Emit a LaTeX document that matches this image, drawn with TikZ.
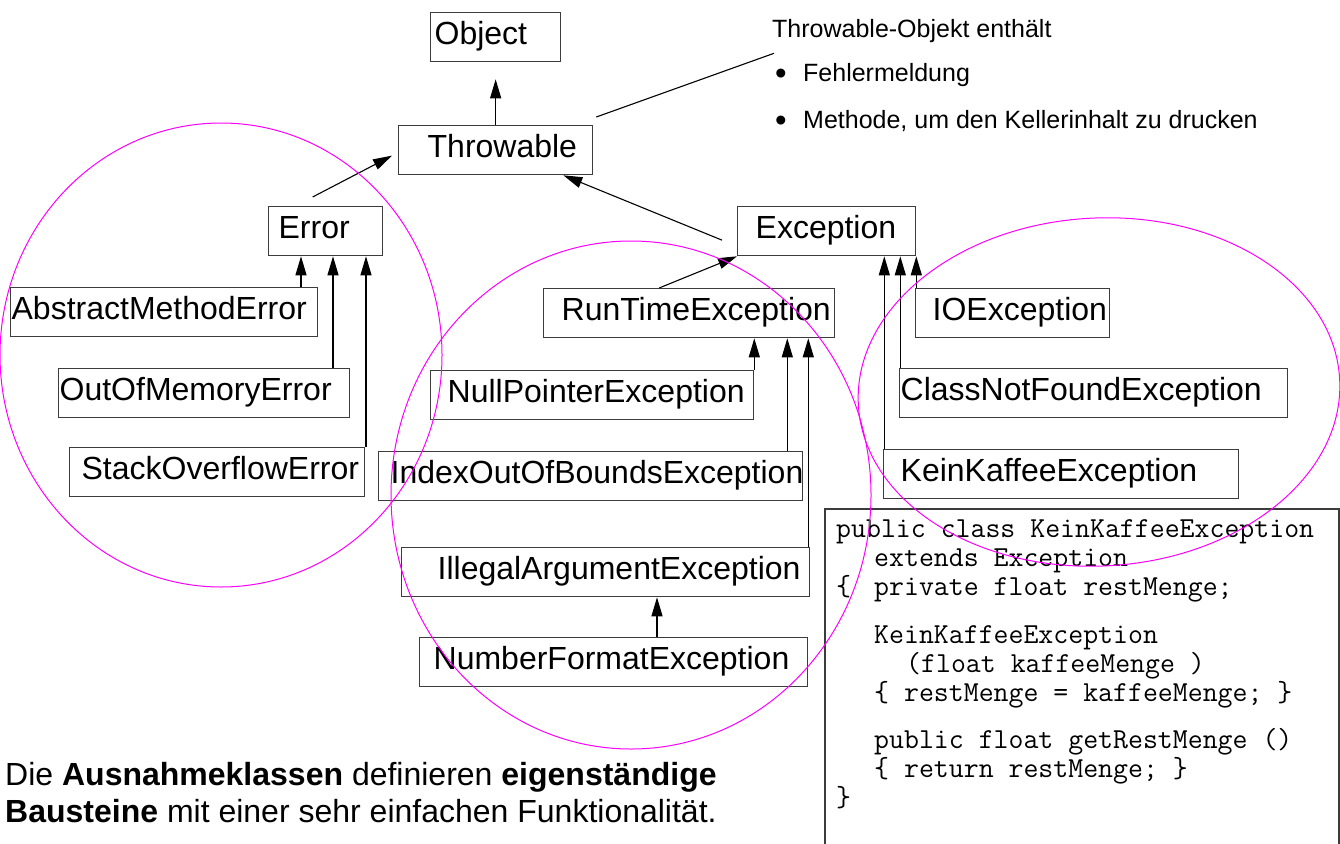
\documentclass[tikz,border=0pt]{standalone}
\usepackage{fontspec}
\setmainfont{Liberation Sans}
\usetikzlibrary{arrows.meta}
\definecolor{ink}{HTML}{000000}
\definecolor{frame}{HTML}{3C3C3C}
\definecolor{ring}{HTML}{FF00FF}

\begin{document}
\begin{tikzpicture}[
  x=1pt,y=-1pt,
  klasse/.style={draw=frame,line width=1.3pt,anchor=north west,align=left,
                 font=\fontsize{32}{38}\selectfont,inner ysep=0pt,
                 text height=32pt,text depth=17pt},
  hinweis/.style={font=\fontsize{25}{29}\selectfont,anchor=base west,inner sep=0pt},
  erbt/.style={-{Triangle[length=19pt,width=11pt]},line width=1.1pt,draw=ink},
  gruppe/.style={draw=ring,line width=1pt}
]
\path[use as bounding box,fill=white] (0,0) rectangle (1340,843);

% 1. Wurzel der Hierarchie.
\node[klasse,inner xsep=4pt,text width=122pt] (object) at (430,12) {Object};
\node[klasse,inner xsep=29pt,text width=136pt] (throwable) at (398,125) {Throwable};
\node[klasse,inner xsep=10pt,text width=94pt] (error) at (268,206) {Error};
\node[klasse,inner xsep=18pt,text width=142pt] (exception) at (737,206) {Exception};

\draw[erbt] (throwable.north) -- ([yshift=-17pt]object.south);
\draw[erbt] ([shift={(-13pt,9pt)}]error.north) -- ([shift={(-6pt,-5.5pt)}]throwable.west);
\draw[erbt] ([shift={(-15pt,-9pt)}]exception.west) -- ([xshift=-30pt]throwable.south east);

% 2. Fehler.
\node[klasse,inner xsep=1pt,text width=305pt] (ame) at (10,287) {AbstractMethodError};
\node[klasse,inner xsep=1pt,text width=289pt] (oome) at (58,368) {OutOfMemoryError};
\node[klasse,inner xsep=12pt,text width=271pt] (soe) at (69,447) {StackOverflowError};

\draw[erbt] ([xshift=33pt]error.south west |- ame.north) -- ([xshift=33pt]error.south west);
\draw[erbt] ([xshift=65pt]error.south west |- oome.north) -- ([xshift=65pt]error.south west);
\draw[erbt] ([xshift=98pt]error.south west |- soe.north) -- ([xshift=98pt]error.south west);

% 3. Laufzeitausnahmen.
\node[klasse,inner xsep=18pt,text width=255pt] (rte) at (543,288) {RunTimeException};
\node[klasse,inner xsep=17pt,text width=289pt] (npe) at (430,370) {NullPointerException};
\node[klasse,inner xsep=12pt,text width=400pt] (ioobe) at (378,451) {IndexOutOfBoundsException};
\node[klasse,inner xsep=36pt,text width=336pt] (iae) at (401,547) {IllegalArgumentException};
\node[klasse,inner xsep=14pt,text width=360pt] (nfe) at (419,637) {NumberFormatException};

\draw[erbt] ([xshift=-30pt]rte.north) -- (exception.south west);
\draw[erbt] ([xshift=-81pt]rte.south east |- npe.north) -- ([xshift=-81pt]rte.south east);
\draw[erbt] ([xshift=-48pt]rte.south east |- ioobe.north) -- ([xshift=-48pt]rte.south east);
\draw[erbt] ([xshift=-27pt]rte.south east |- iae.north) -- ([xshift=-27pt]rte.south east);
\draw[erbt] ([xshift=256pt]iae.south west |- nfe.north) -- ([xshift=256pt]iae.south west);

% 4. Gepruefte Ausnahmen.
\node[klasse,inner xsep=17pt,text width=160pt] (ioe) at (915,288) {IOException};
\node[klasse,inner xsep=1pt,text width=386pt] (cnfe) at (899,368) {ClassNotFoundException};
\node[klasse,inner xsep=17pt,text width=321pt] (kke) at (883,449) {KeinKaffeeException};

\draw[erbt] ([xshift=-32pt]exception.south east |- kke.north) -- ([xshift=-32pt]exception.south east);
\draw[erbt] ([xshift=-16pt]exception.south east |- cnfe.north) -- ([xshift=-16pt]exception.south east);
\draw[erbt] (exception.south east |- ioe.north) -- (exception.south east);

% 5. Hinweis zu Throwable.
\node[hinweis] (inhalt) at (772,37.3) {Throwable-Objekt enthält};
\node[hinweis] (meldung) at (775,81.7)
  {\makebox[28pt][l]{\fontsize{33}{33}\selectfont\raisebox{-3pt}{\textbullet}}Fehlermeldung};
\node[hinweis] (keller) at (775,128.3)
  {\makebox[28pt][l]{\fontsize{33}{33}\selectfont\raisebox{-3pt}{\textbullet}}Methode, um den Kellerinhalt zu drucken};
\draw[line width=1.1pt,draw=ink] ([shift={(3pt,8pt)}]throwable.north east) -- ([shift={(2pt,-16pt)}]inhalt.base west);

% 6. Quelltext und Fazit.
\draw[draw=frame,line width=1.3pt] (825,860) |- (1339,509) -- (1339,860);
\node[anchor=north west,inner sep=0pt,align=left,
      font=\ttfamily\fontsize{29}{29}\selectfont] (quelltext) at (836,516.7)
  {\strut public class KeinKaffeeException\\
   \hspace*{38pt}extends Exception\\
   \makebox[38pt][l]{\{}private float restMenge;\\[19pt]
   \hspace*{38pt}KeinKaffeeException\\
   \hspace*{70pt}(float kaffeeMenge )\\
   \hspace*{38pt}\{ restMenge = kaffeeMenge; \}\\[18pt]
   \hspace*{38pt}public float getRestMenge ()\\
   \hspace*{38pt}\{ return restMenge; \}\\
   \}};

\node[anchor=north west,inner sep=0pt,align=left,
      font=\fontsize{32}{37}\selectfont] (fazit) at (5,759.1)
  {\strut Die \textbf{Ausnahmeklassen} definieren \textbf{eigenständige}\\
   \textbf{Bausteine} mit einer sehr einfachen Funktionalität.};

% 7. Gruppen.
\draw[gruppe] (221,355) ellipse [x radius=221,y radius=232];
\draw[gruppe] (631,495) ellipse [x radius=240,y radius=254];
\draw[gruppe,rotate around={3:(1099,392)}] (1099,392) ellipse [x radius=241,y radius=174];

\end{tikzpicture}
\end{document}
